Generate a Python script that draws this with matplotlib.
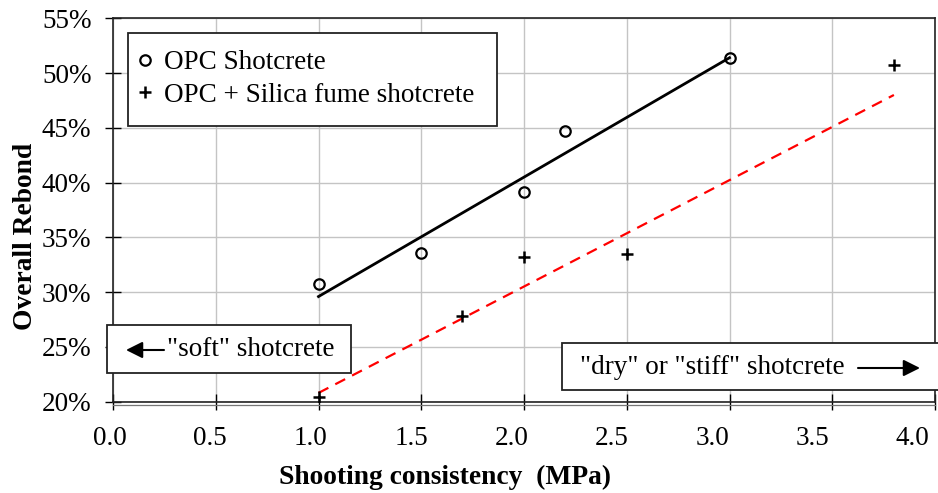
import numpy as np
import matplotlib
matplotlib.use('Agg')
import matplotlib.pyplot as plt
from matplotlib.patches import Rectangle
from matplotlib.ticker import PercentFormatter, MultipleLocator

plt.rcParams['font.family'] = ['Liberation Serif', 'DejaVu Serif']

# OPC shotcrete (circles)
opc_x = [1.0, 1.5, 2.0, 2.2, 3.0]
opc_y = [30.7, 33.6, 39.1, 44.7, 51.4]
# OPC + silica fume shotcrete (plus)
sf_x = [1.0, 1.7, 2.0, 2.5, 3.8]
sf_y = [20.4, 27.8, 33.2, 33.5, 50.7]
# trend lines
opc_fit_x = [1.0, 3.0]
opc_fit_y = [29.6, 51.4]
sf_fit_x = [1.0, 3.8]
sf_fit_y = [20.8, 48.0]
x_ticks = [0.0, 0.5, 1.0, 1.5, 2.0, 2.5, 3.0, 3.5, 4.0]

W, H = 938, 493
FS = 19.5
fig = plt.figure(figsize=(W / 100, H / 100), dpi=100)
ax = fig.add_axes([113 / W, 1 - 401.7 / H, (935 - 113) / W, (401.7 - 18.3) / H])

def px(x, y):
  # pixel position (from top-left) -> figure fraction
  return x / W, 1 - y / H

ax.grid(True, color='#c4c4c4', linewidth=1.0, zorder=0)
ax.set_axisbelow(True)

ax.plot(opc_fit_x, opc_fit_y, '-', color='black', linewidth=2.0, zorder=3)
ax.plot(sf_fit_x, sf_fit_y, '--', color='red', linewidth=1.6, dashes=(5, 3.5), zorder=3)
ax.plot(opc_x, opc_y, 'o', markersize=7.5, markerfacecolor='none', markeredgecolor='black',
        markeredgewidth=1.6, linestyle='none', label='OPC Shotcrete', zorder=4)
ax.plot(sf_x, sf_y, '+', markersize=9, color='black', markeredgewidth=1.8,
        linestyle='none', label='OPC + Silica fume shotcrete', zorder=4)

ax.set_xlim(0, 4.0)
ax.set_ylim(20, 55)
ax.set_xticks(x_ticks)
ax.yaxis.set_major_locator(MultipleLocator(5))
ax.yaxis.set_major_formatter(PercentFormatter(decimals=0))
ax.tick_params(axis='both', direction='inout', length=11, width=1.0, labelsize=FS, colors='black')
ax.tick_params(axis='y', pad=10)
ax.tick_params(axis='x', labelbottom=False)
# x tick labels drift slightly left of their ticks in the original
for i, t in enumerate(x_ticks):
  xf = (113 + t / 4.0 * 822 - 3 - 2.4 * i) / W
  fig.text(xf, 1 - 426 / H, '%.1f' % t, fontsize=FS, ha='center', va='top')

for s in ax.spines.values():
  s.set_color('#222222')
  s.set_linewidth(1.2)
# second thin line under the bottom axis
ax.axhline(19.7, color='#777777', linewidth=0.9, clip_on=False, zorder=5)

ax.set_xlabel('Shooting consistency  (MPa)', fontsize=FS + 0.3, fontweight='bold')
ax.xaxis.set_label_coords((445 - 113) / 822, -(465 - 401.7) / 383.4)
ax.set_ylabel('Overall Rebond', fontsize=FS + 0.3, fontweight='bold')
ax.yaxis.set_label_coords((38 - 113) / 822, (401.7 - 236) / 383.4)

# legend: frame drawn separately so its size can follow the original
leg = ax.legend(loc='upper left', bbox_to_anchor=px(126, 38), bbox_transform=fig.transFigure,
                fontsize=FS, frameon=False, handlelength=0.5, handletextpad=0.47,
                borderpad=0.45, labelspacing=0.27, borderaxespad=0)

def note_box(left, top, right, bottom, z=6):
  x0, y0 = px(left, bottom)
  x1, y1 = px(right, top)
  ax.add_patch(Rectangle((x0, y0), x1 - x0, y1 - y0, transform=fig.transFigure, clip_on=False,
                         facecolor='white', edgecolor='#222222', linewidth=1.3, zorder=z))

def note_arrow(start, end):
  ax.annotate('', xy=px(*end), xytext=px(*start), xycoords='figure fraction',
              textcoords='figure fraction', annotation_clip=False, zorder=7,
              arrowprops=dict(arrowstyle='-|>,head_length=1.0,head_width=0.5', color='black',
                              linewidth=1.5, shrinkA=0, shrinkB=0))

note_box(128, 33, 497, 126, z=2.5)

# "soft" shotcrete box
note_box(107, 325, 351, 372.7)
ax.text(*px(167, 350), '"soft" shotcrete', transform=fig.transFigure, fontsize=FS,
        va='center', ha='left', zorder=7)
note_arrow((164, 350), (126, 350))

# "dry" or "stiff" shotcrete box
note_box(561.7, 343.3, 945, 390)
ax.text(*px(580, 367), '"dry" or "stiff" shotcrete', transform=fig.transFigure, fontsize=FS,
        va='center', ha='left', zorder=7)
note_arrow((858, 368), (920, 368))

fig.savefig('out.png', dpi=100)
